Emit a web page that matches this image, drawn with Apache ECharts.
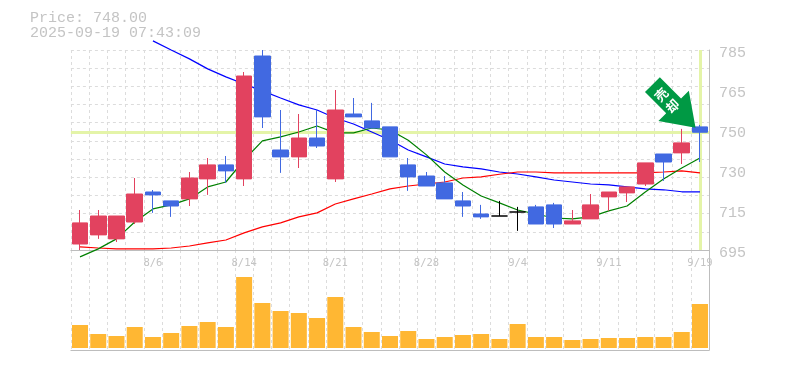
<!DOCTYPE html>
<html>
<head>
<meta charset="utf-8">
<style>
html, body { margin: 0; padding: 0; background: #fff; }
#container { width: 785px; height: 370px; }
</style>
<script src="https://cdn.jsdelivr.net/npm/echarts@6/dist/echarts.min.js"></script>
</head>
<body>
<div id="container"></div>
<script>
// data
var dates = ['7/31','8/1','8/4','8/5','8/6','8/7','8/8','8/12','8/13','8/14','8/15','8/18','8/19','8/20','8/21','8/22','8/25','8/26','8/27','8/28','8/29','9/1','9/2','9/3','9/4','9/5','9/8','9/9','9/10','9/11','9/12','9/16','9/17','9/18','9/19'];
var shownDates = ['8/6','8/14','8/21','8/28','9/4','9/11','9/19'];

var opens = [697.7,701.8,700,707.6,721.1,717.1,718,727,733.3,727,782.3,740,736.9,745.4,727,756.2,753.1,750.4,733.3,728.3,725.2,717.1,711.2,710.3,712.1,714.4,715.3,706.7,709,718.9,720.7,724.7,738.2,738.7,750.4];
var closes = [707.2,710.3,710.3,720.2,719.8,714.8,727.4,733.3,730.6,773.3,754.9,736.9,745.4,741.8,758,754.9,749.9,736.9,727.9,723.8,718,714.8,709.9,710.3,712.1,706.7,706.7,708.1,715.3,721.1,723.4,734.2,734.6,743.2,748];
var lows = [695,700,698.6,706.7,711.7,709.9,714.8,719.8,725.2,723.8,749.9,729.7,731.9,740.9,725.6,754.9,749.9,736.9,721.6,723.8,718,709.9,709,710.3,703.6,706.7,704.9,706.7,709,712.6,716.6,723.8,726.1,733.7,734.6];
var highs = [713,713,710.3,727.4,722,717.1,730.1,736.4,737.3,775.1,785,758,756.2,758,767,763.4,761.2,750.4,736.4,730.1,728.3,721.1,715.3,717.1,714.4,715.3,716.2,713,720.2,721.1,723.4,734.2,738.2,749.5,751.3];

var maShort = [691.9,695.5,700,707.6,713.5,715.3,718,723.4,725.6,735.5,744.1,745.9,748.1,750.8,747.7,747.7,749.9,749,744.4,737.8,730.1,724.3,719.3,716.2,713,711.2,709.4,709,709.9,712.6,714.8,721.1,726.9,731.9,736.4];
var maMid = [696.4,695.9,695.5,695.5,695.5,695.9,696.8,698.2,699.5,702.7,705.4,707.2,709.9,711.7,715.7,718,720.2,722.5,723.8,724.7,725.6,727.4,727.9,729.1,730.1,730.1,729.7,729.7,729.7,729.7,729.7,729.7,730.1,730.6,729.7];
var maLong = [null,null,null,null,789.1,785,781,776.5,772.9,769.7,766.6,763.4,760.3,758,754.4,751.7,748.1,744.5,740,736.9,733.7,732.4,731.5,730.1,729.2,727.9,726.5,725.6,724.7,724.3,723.4,722.5,722.1,721.2,721.2];

var volumes = [23,14,12,21,11,15,22,26,21,71,45,37,35,30,51,21,16,12,17,9,11,13,14,9,24,11,11,8,9,10,10,11,11,16,44];

var priceTicks = [695,713,731,749,767,785];
var priceTickLabels = ['695','715','730','750','765','785'];
var lastPrice = 748;
var titleLines = ['Price: 748.00', '2025-09-19 07:43:09'];
var signalText = '売\n却';

var upColor = '#e2425f';
var downColor = '#4169e1';
var dojiColor = '#000000';
var gridColor = '#dcdcdc';
var axisColor = '#bdbdbd';
var textColor = '#c4c4c4';
var monoFont = '"Liberation Mono", monospace';

var candleData = dates.map(function (d, i) {
    var item = { value: [opens[i], closes[i], lows[i], highs[i]] };
    if (opens[i] === closes[i]) {
        item.itemStyle = { color: dojiColor, color0: dojiColor, borderColor: dojiColor, borderColor0: dojiColor };
    }
    return item;
});

var dashLine = { show: true, lineStyle: { color: gridColor, type: [3, 3], width: 1 } };

function maSeries(name, values, color) {
    return {
        name: name,
        type: 'line',
        data: values,
        xAxisIndex: 0,
        yAxisIndex: 0,
        showSymbol: false,
        clip: false,
        z: 2,
        lineStyle: { color: color, width: 1.2 }
    };
}

var option = {
    animation: false,
    backgroundColor: '#fff',
    title: {
        text: titleLines.join('\n'),
        left: 30,
        top: 11,
        padding: 0,
        textStyle: {
            color: textColor,
            fontFamily: monoFont,
            fontWeight: 'normal',
            fontSize: 15,
            lineHeight: 15
        }
    },
    grid: [
        { left: 70.9, top: 50, width: 638.2, height: 200 },
        { left: 70.9, top: 250, width: 638.2, height: 100 }
    ],
    xAxis: [
        {
            type: 'category',
            gridIndex: 0,
            data: dates,
            axisLine: { onZero: false, lineStyle: { color: axisColor } },
            axisTick: { show: false },
            splitLine: Object.assign({ interval: 0 }, dashLine),
            axisLabel: {
                interval: function (i, v) { return shownDates.indexOf(v) >= 0; },
                color: '#c4c4c4',
                fontFamily: '"DejaVu Sans Mono", monospace',
                fontSize: 10.5,
                margin: 8
            }
        },
        {
            type: 'category',
            gridIndex: 1,
            data: dates,
            axisLine: { onZero: false, lineStyle: { color: axisColor } },
            axisTick: { show: false },
            splitLine: Object.assign({ interval: 0 }, dashLine),
            axisLabel: { show: false }
        }
    ],
    yAxis: [
        {
            type: 'value',
            gridIndex: 0,
            position: 'right',
            min: 695,
            max: 785,
            axisLine: { show: true, lineStyle: { color: axisColor } },
            axisTick: { show: false },
            splitLine: { show: false },
            axisLabel: {
                customValues: priceTicks,
                formatter: function (v) { return priceTickLabels[priceTicks.indexOf(v)]; },
                color: textColor,
                fontFamily: monoFont,
                fontSize: 15,
                margin: 10,
                padding: [0, 0, 0, 0],
                verticalAlign: 'top',
                lineHeight: 7
            }
        },
        {
            // helper axis, only for the 11 dashed rows
            type: 'value',
            gridIndex: 0,
            min: 0,
            max: 11,
            interval: 1,
            axisLine: { show: false },
            axisTick: { show: false },
            axisLabel: { show: false },
            splitLine: dashLine
        },
        {
            type: 'value',
            gridIndex: 1,
            position: 'right',
            min: -2,
            max: 98,
            axisLine: { show: true, lineStyle: { color: axisColor } },
            axisTick: { show: false },
            axisLabel: { show: false },
            splitLine: { show: false }
        }
    ],
    series: [
        {
            name: 'highlight',
            type: 'line',
            data: [],
            xAxisIndex: 0,
            yAxisIndex: 0,
            z: 1,
            markLine: {
                silent: true,
                z: 1,
                symbol: 'none',
                label: { show: false },
                lineStyle: { color: '#e4f4a8', width: 3, type: 'solid' },
                data: [
                    { yAxis: lastPrice },
                    { xAxis: dates[dates.length - 1] }
                ]
            }
        },
        maSeries('long', maLong, '#0000ff'),
        maSeries('mid', maMid, '#ff0000'),
        maSeries('short', maShort, '#008000'),
        {
            name: 'price',
            type: 'candlestick',
            xAxisIndex: 0,
            yAxisIndex: 0,
            barWidth: 16,
            z: 3,
            itemStyle: {
                color: upColor,
                color0: downColor,
                borderColor: upColor,
                borderColor0: downColor,
                borderWidth: 1
            },
            data: candleData,
            markPoint: {
                silent: true,
                z: 5,
                data: [
                    {
                        coord: [dates[dates.length - 1], lastPrice],
                        symbol: 'path://M11 0H32V30H43L21.5 61L0 30H11Z',
                        symbolSize: [43, 61],
                        symbolRotate: 45,
                        symbolOffset: [-26, -26],
                        itemStyle: { color: '#009944' },
                        label: { show: false }
                    },
                    {
                        coord: [dates[dates.length - 1], lastPrice],
                        symbol: 'circle',
                        symbolSize: 1,
                        symbolOffset: [-33, -32],
                        itemStyle: { color: 'transparent' },
                        label: {
                            show: true,
                            position: 'inside',
                            formatter: signalText,
                            color: '#ffffff',
                            fontFamily: '"Noto Sans CJK JP", sans-serif',
                            fontWeight: 'bold',
                            fontSize: 13,
                            lineHeight: 16,
                            rotate: 45
                        }
                    }
                ]
            }
        },
        {
            name: 'volume',
            type: 'bar',
            xAxisIndex: 1,
            yAxisIndex: 2,
            data: volumes,
            barWidth: 16,
            itemStyle: { color: '#ffb733' }
        }
    ]
};

var myChart = echarts.init(document.getElementById('container'), null, { renderer: 'canvas' });
myChart.setOption(option);
window.addEventListener('resize', myChart.resize);
</script>
</body>
</html>
